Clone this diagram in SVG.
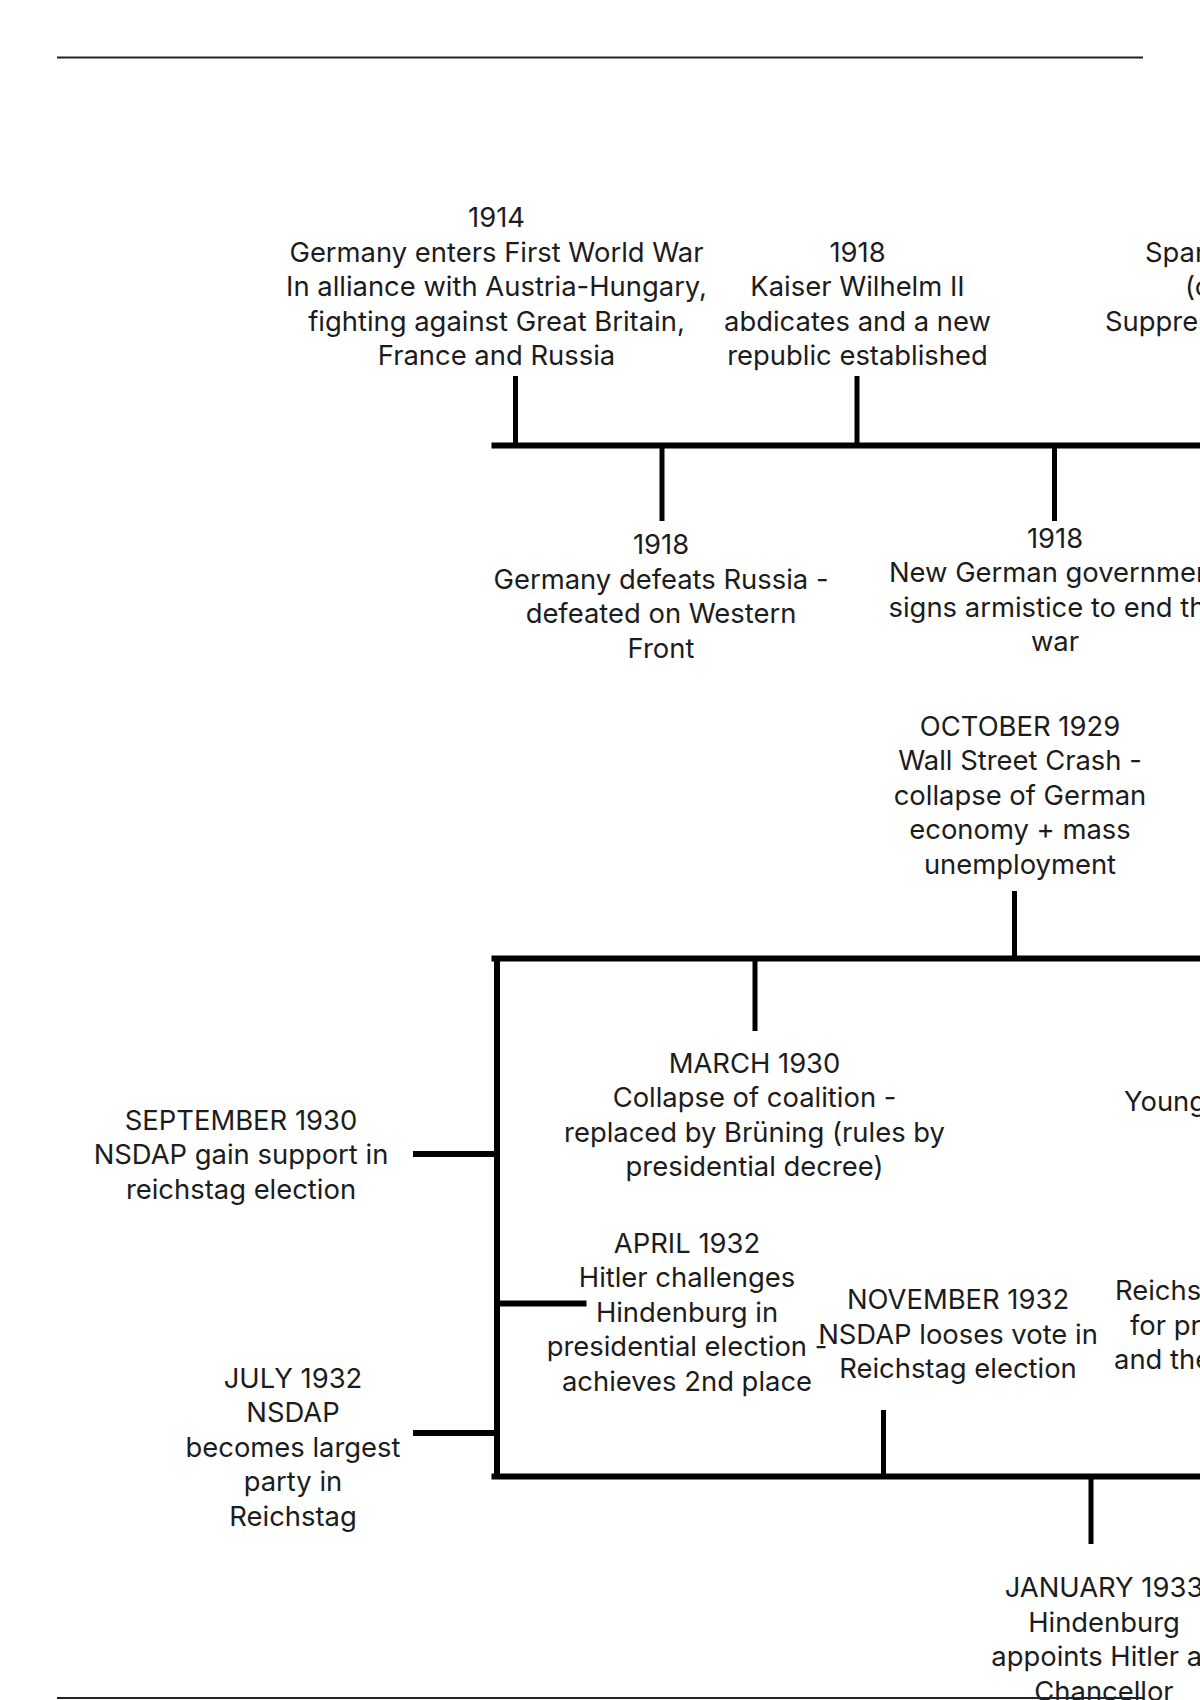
<svg xmlns="http://www.w3.org/2000/svg" width="1200" height="1700" viewBox="0 0 1200 1700">
<style>
text{font-family:Inter,"Liberation Sans",sans-serif;font-size:27.4px;fill:#1c1c1c;text-anchor:middle}
text.s{text-anchor:start}
.rule{stroke:#222;stroke-width:2;fill:none}
.main{stroke:#000;stroke-width:6;fill:none}
.tick{stroke:#000;stroke-width:5;fill:none}
</style>
<rect width="1200" height="1700" fill="#fff"/>
<g id="connectors">
<line class="rule" x1="57" y1="57.5" x2="1143" y2="57.5"/>
<line class="main" x1="491.5" y1="445.5" x2="1200" y2="445.5"/>
<line class="tick" x1="515.5" y1="376" x2="515.5" y2="445"/>
<line class="tick" x1="857" y1="376" x2="857" y2="445"/>
<line class="tick" x1="662" y1="445" x2="662" y2="521"/>
<line class="tick" x1="1054.5" y1="445" x2="1054.5" y2="521"/>
<line class="tick" x1="1014.5" y1="891" x2="1014.5" y2="958"/>
<line class="main" x1="491.5" y1="958.5" x2="1200" y2="958.5"/>
<line class="main" x1="497" y1="956" x2="497" y2="1479"/>
<line class="main" x1="491.5" y1="1476.5" x2="1200" y2="1476.5"/>
<line class="tick" x1="755" y1="958" x2="755" y2="1031"/>
<line class="main" x1="413" y1="1154" x2="497" y2="1154"/>
<line class="main" x1="497" y1="1303.5" x2="586.5" y2="1303.5"/>
<line class="tick" x1="883.5" y1="1410" x2="883.5" y2="1476"/>
<line class="main" x1="413" y1="1433" x2="497" y2="1433"/>
<line class="tick" x1="1091" y1="1476" x2="1091" y2="1544"/>
</g>
<g id="n1914">
<text x="496.5" y="227">1914</text>
<text x="496.5" y="261.5">Germany enters First World War</text>
<text x="496.5" y="296">In alliance with Austria-Hungary,</text>
<text x="496.5" y="330.5">fighting against Great Britain,</text>
<text x="496.5" y="365">France and Russia</text>
</g>
<g id="n1918kaiser">
<text x="857.5" y="261.5">1918</text>
<text x="857.5" y="296">Kaiser Wilhelm II</text>
<text x="857.5" y="330.5">abdicates and a new</text>
<text x="857.5" y="365">republic established</text>
</g>
<g id="nSpar">
<text class="s" x="1145" y="261.5">Spar</text>
<text class="s" x="1185" y="296">(c</text>
<text class="s" x="1105" y="330.5">Suppres</text>
</g>
<g id="n1918russia">
<text x="661" y="554">1918</text>
<text x="661" y="588.5">Germany defeats Russia -</text>
<text x="661" y="623">defeated on Western</text>
<text x="661" y="657.5">Front</text>
</g>
<g id="n1918armistice">
<text x="1055" y="547.5">1918</text>
<text x="1055" y="582">New German government</text>
<text x="1055" y="616.5">signs armistice to end the</text>
<text x="1055" y="651">war</text>
</g>
<g id="nOct1929">
<text x="1020" y="735.5">OCTOBER 1929</text>
<text x="1020" y="770">Wall Street Crash -</text>
<text x="1020" y="804.5">collapse of German</text>
<text x="1020" y="839">economy + mass</text>
<text x="1020" y="873.5">unemployment</text>
</g>
<g id="nMar1930">
<text x="754.5" y="1072.5">MARCH 1930</text>
<text x="754.5" y="1107">Collapse of coalition -</text>
<text x="754.5" y="1141.5">replaced by Brüning (rules by</text>
<text x="754.5" y="1176">presidential decree)</text>
</g>
<g id="nSep1930">
<text x="241" y="1129.5">SEPTEMBER 1930</text>
<text x="241" y="1164">NSDAP gain support in</text>
<text x="241" y="1198.5">reichstag election</text>
</g>
<g id="nYoung">
<text class="s" x="1124" y="1111">Young</text>
</g>
<g id="nApr1932">
<text x="687" y="1252.5">APRIL 1932</text>
<text x="687" y="1287">Hitler challenges</text>
<text x="687" y="1321.5">Hindenburg in</text>
<text x="687" y="1356">presidential election -</text>
<text x="687" y="1390.5">achieves 2nd place</text>
</g>
<g id="nNov1932">
<text x="958" y="1309">NOVEMBER 1932</text>
<text x="958" y="1343.5">NSDAP looses vote in</text>
<text x="958" y="1378">Reichstag election</text>
</g>
<g id="nReichs">
<text class="s" x="1115" y="1300">Reichs</text>
<text class="s" x="1130" y="1334.5">for pr</text>
<text class="s" x="1114" y="1369">and the</text>
</g>
<g id="nJul1932">
<text x="293" y="1387.5">JULY 1932</text>
<text x="293" y="1422">NSDAP</text>
<text x="293" y="1456.5">becomes largest</text>
<text x="293" y="1491">party in</text>
<text x="293" y="1525.5">Reichstag</text>
</g>
<g id="nJan1933">
<text x="1104" y="1597">JANUARY 1933</text>
<text x="1104" y="1631.5">Hindenburg</text>
<text x="1104" y="1666">appoints Hitler as</text>
<text x="1104" y="1700.5">Chancellor</text>
</g>
<line class="rule" x1="57" y1="1698" x2="1143" y2="1698"/>
</svg>
